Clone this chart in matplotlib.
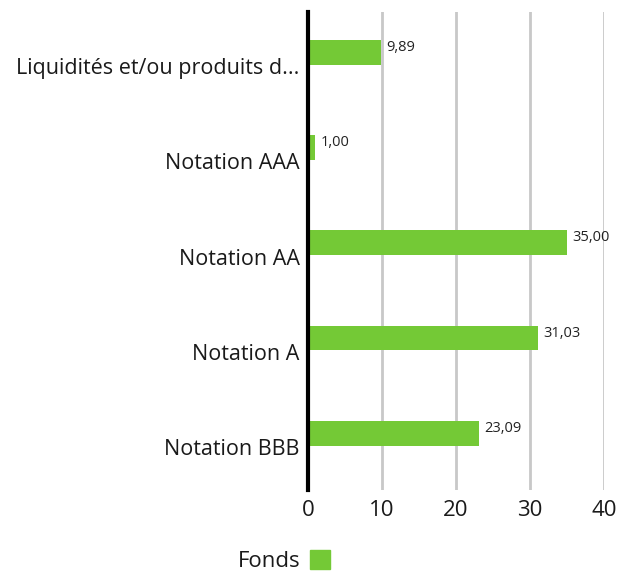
import matplotlib
matplotlib.use("Agg")
import matplotlib.pyplot as plt
from matplotlib.patches import Patch

categories = ["Liquidités et/ou produits d...", "Notation AAA", "Notation AA", "Notation A", "Notation BBB"]
values = [9.89, 1.00, 35.00, 31.03, 23.09]
value_labels = ["9,89", "1,00", "35,00", "31,03", "23,09"]
xticks = [0, 10, 20, 30, 40]
series_name = "Fonds"
green = "#74C936"

plt.rcParams['font.family'] = ['Open Sans', 'DejaVu Sans']

fig = plt.figure(figsize=(6.29, 5.74), dpi=100)
ax = fig.add_axes([308/629, 1-490/574, (604-308)/629, (490-12)/574])

ypos = list(range(len(categories)))
bar_offset = -0.145
bar_y = [y + bar_offset for y in ypos]
ax.barh(bar_y, values, height=0.26, color=green, zorder=3)
for y, v, lab in zip(bar_y, values, value_labels):
    ax.text(v + 0.75, y - 0.05, lab, fontsize=10.5, va='center', ha='left', color='#222222')

ax.set_xlim(0, 40)
ax.set_ylim(4.45, -0.567)
ax.set_yticks(ypos)
ax.set_yticklabels(categories, fontsize=15.5, color='#1a1a1a')
ax.set_xticks(xticks)
ax.set_xticklabels([str(t) for t in xticks], fontsize=16, color='#1a1a1a')
ax.tick_params(axis='y', length=0, pad=6)
ax.tick_params(axis='x', length=0, pad=7)
ax.grid(axis='x', color='#c8c8c8', linewidth=2, zorder=0)
for s in ['top', 'right', 'bottom']:
    ax.spines[s].set_visible(False)
ax.spines['left'].set_linewidth(3)
ax.spines['left'].set_color('black')
ax.spines['left'].set_zorder(4)

handle = Patch(color=green, label=series_name)
fig.legend(handles=[handle], loc='center', bbox_to_anchor=(284/629, 1-561/574),
           frameon=False, markerfirst=False, fontsize=16, handlelength=0.9, handleheight=0.9,
           handletextpad=0.4, labelcolor='#1a1a1a', borderpad=0.1)

fig.savefig("out.png", dpi=100)
